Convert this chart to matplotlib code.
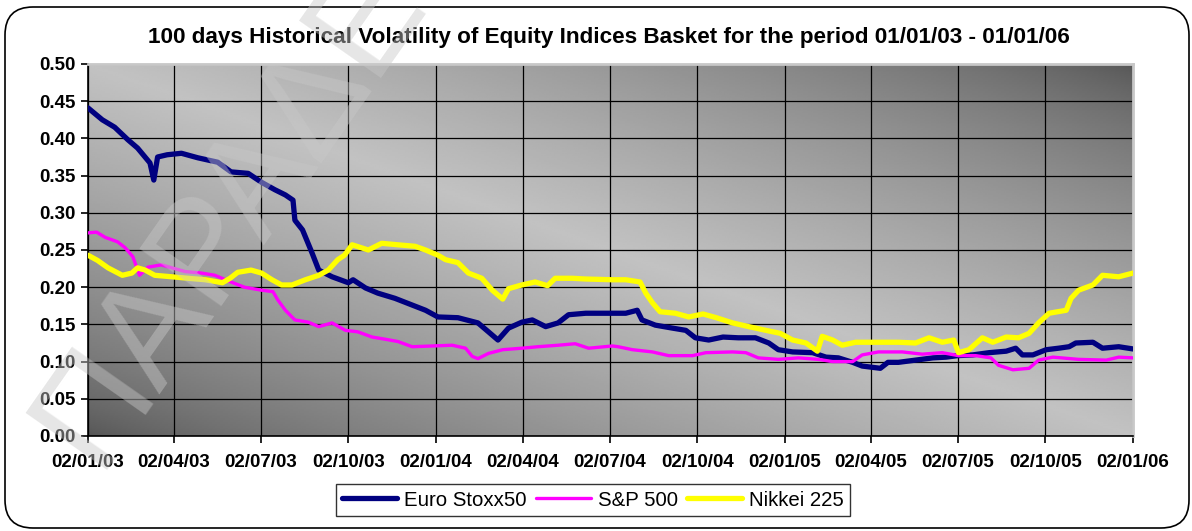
import numpy as np
import pandas as pd
import matplotlib
matplotlib.use("Agg")
import matplotlib.pyplot as plt
import matplotlib.dates as mdates
from matplotlib.patches import FancyBboxPatch

plt.rcParams['font.family'] = ['Liberation Sans', 'DejaVu Sans']

# ---------------------------------------------------------------- data
euro_dates = ['2003-01-02', '2003-01-17', '2003-01-30', '2003-02-13', '2003-02-23', '2003-03-08',
              '2003-03-12', '2003-03-16', '2003-03-26', '2003-04-10', '2003-04-27', '2003-05-18',
              '2003-06-01', '2003-06-19', '2003-07-03', '2003-07-17', '2003-07-28', '2003-08-05',
              '2003-08-07', '2003-08-15', '2003-08-25', '2003-09-01', '2003-09-15', '2003-10-02',
              '2003-10-07', '2003-10-20', '2003-11-02', '2003-11-20', '2003-12-08', '2003-12-22',
              '2004-01-04', '2004-01-25', '2004-02-15', '2004-02-26', '2004-03-07', '2004-03-18',
              '2004-04-01', '2004-04-12', '2004-04-26', '2004-05-09', '2004-05-20', '2004-06-07',
              '2004-07-05', '2004-07-19', '2004-07-31', '2004-08-05', '2004-08-19', '2004-09-06',
              '2004-09-20', '2004-09-30', '2004-10-14', '2004-10-29', '2004-11-14', '2004-12-02',
              '2004-12-16', '2004-12-26', '2005-01-10', '2005-01-31', '2005-02-14', '2005-02-27',
              '2005-03-14', '2005-03-24', '2005-04-12', '2005-04-20', '2005-05-01', '2005-05-19',
              '2005-06-06', '2005-06-20', '2005-07-02', '2005-07-18', '2005-08-04', '2005-08-22',
              '2005-09-01', '2005-09-08', '2005-09-19', '2005-10-03', '2005-10-16', '2005-10-27',
              '2005-11-03', '2005-11-21', '2005-12-01', '2005-12-18', '2006-01-02']
euro_vals = [0.441, 0.425, 0.415, 0.398, 0.387, 0.367, 0.344, 0.375, 0.378, 0.380, 0.374, 0.368,
             0.355, 0.353, 0.341, 0.331, 0.324, 0.317, 0.290, 0.277, 0.246, 0.223, 0.214, 0.206,
             0.210, 0.199, 0.192, 0.185, 0.176, 0.169, 0.160, 0.159, 0.152, 0.140, 0.129, 0.145,
             0.153, 0.156, 0.147, 0.152, 0.163, 0.165, 0.165, 0.165, 0.169, 0.156, 0.149, 0.145,
             0.142, 0.132, 0.129, 0.133, 0.132, 0.132, 0.125, 0.116, 0.113, 0.112, 0.106, 0.105,
             0.099, 0.094, 0.091, 0.099, 0.099, 0.102, 0.105, 0.106, 0.108, 0.109, 0.112, 0.114,
             0.118, 0.109, 0.109, 0.116, 0.118, 0.120, 0.125, 0.126, 0.118, 0.120, 0.117]

sp_dates = ['2003-01-02', '2003-01-11', '2003-01-20', '2003-02-02', '2003-02-10', '2003-02-18',
            '2003-02-22', '2003-02-25', '2003-03-06', '2003-03-20', '2003-03-31', '2003-04-14',
            '2003-05-01', '2003-05-15', '2003-06-01', '2003-06-15', '2003-07-03', '2003-07-15',
            '2003-07-20', '2003-07-28', '2003-08-07', '2003-08-21', '2003-09-01', '2003-09-15',
            '2003-09-29', '2003-10-12', '2003-10-27', '2003-11-10', '2003-11-23', '2003-12-08',
            '2003-12-29', '2004-01-19', '2004-02-02', '2004-02-09', '2004-02-15', '2004-02-26',
            '2004-03-12', '2004-04-01', '2004-04-18', '2004-05-09', '2004-05-27', '2004-06-10',
            '2004-07-05', '2004-07-11', '2004-07-26', '2004-08-16', '2004-09-02', '2004-09-27',
            '2004-10-11', '2004-11-08', '2004-11-22', '2004-12-05', '2004-12-26', '2005-01-16',
            '2005-02-06', '2005-02-21', '2005-03-14', '2005-03-24', '2005-04-10', '2005-05-05',
            '2005-05-26', '2005-06-16', '2005-07-03', '2005-07-21', '2005-08-06', '2005-08-14',
            '2005-08-29', '2005-09-15', '2005-09-25', '2005-10-10', '2005-11-06', '2005-12-05',
            '2005-12-18', '2006-01-02']
sp_vals = [0.273, 0.274, 0.267, 0.261, 0.253, 0.241, 0.227, 0.216, 0.227, 0.230, 0.226, 0.221,
           0.219, 0.216, 0.207, 0.200, 0.196, 0.194, 0.183, 0.169, 0.156, 0.153, 0.147, 0.152,
           0.142, 0.140, 0.133, 0.130, 0.127, 0.120, 0.121, 0.122, 0.118, 0.107, 0.104, 0.111,
           0.116, 0.118, 0.120, 0.122, 0.124, 0.118, 0.121, 0.120, 0.116, 0.113, 0.108, 0.108,
           0.112, 0.113, 0.112, 0.105, 0.103, 0.105, 0.103, 0.100, 0.100, 0.109, 0.113, 0.113,
           0.110, 0.112, 0.108, 0.108, 0.105, 0.095, 0.089, 0.091, 0.102, 0.106, 0.103, 0.102,
           0.106, 0.105]

nikkei_dates = ['2003-01-02', '2003-01-12', '2003-01-23', '2003-02-07', '2003-02-17', '2003-02-23',
                '2003-03-03', '2003-03-13', '2003-03-31', '2003-04-17', '2003-05-05', '2003-05-23',
                '2003-05-31', '2003-06-08', '2003-06-22', '2003-07-03', '2003-07-14', '2003-07-24',
                '2003-08-04', '2003-08-18', '2003-09-01', '2003-09-11', '2003-09-21', '2003-09-28',
                '2003-10-06', '2003-10-23', '2003-11-06', '2003-11-23', '2003-12-11', '2003-12-22',
                '2004-01-04', '2004-01-12', '2004-01-25', '2004-02-05', '2004-02-19', '2004-03-01',
                '2004-03-12', '2004-03-18', '2004-04-01', '2004-04-15', '2004-04-28', '2004-05-06',
                '2004-05-24', '2004-06-07', '2004-07-05', '2004-07-19', '2004-08-03', '2004-08-09',
                '2004-08-16', '2004-08-24', '2004-09-09', '2004-09-23', '2004-10-08', '2004-10-22',
                '2004-11-08', '2004-11-25', '2004-12-13', '2004-12-28', '2005-01-10', '2005-01-24',
                '2005-02-05', '2005-02-10', '2005-02-21', '2005-03-03', '2005-03-17', '2005-04-03',
                '2005-05-01', '2005-05-19', '2005-06-02', '2005-06-16', '2005-06-28', '2005-07-03',
                '2005-07-14', '2005-07-28', '2005-08-08', '2005-08-22', '2005-09-04', '2005-09-15',
                '2005-09-25', '2005-10-06', '2005-10-24', '2005-10-29', '2005-11-06', '2005-11-21',
                '2005-12-01', '2005-12-18', '2006-01-02']
nikkei_vals = [0.243, 0.236, 0.226, 0.216, 0.219, 0.226, 0.223, 0.216, 0.214, 0.212, 0.210, 0.206,
               0.212, 0.220, 0.223, 0.219, 0.210, 0.203, 0.203, 0.210, 0.216, 0.223, 0.237, 0.243,
               0.257, 0.250, 0.259, 0.257, 0.255, 0.250, 0.243, 0.237, 0.233, 0.219, 0.212, 0.196,
               0.184, 0.198, 0.203, 0.207, 0.202, 0.212, 0.212, 0.211, 0.210, 0.210, 0.207, 0.192,
               0.179, 0.167, 0.165, 0.160, 0.164, 0.159, 0.152, 0.147, 0.142, 0.138, 0.129, 0.125,
               0.114, 0.134, 0.129, 0.122, 0.126, 0.126, 0.126, 0.125, 0.132, 0.126, 0.129, 0.112,
               0.116, 0.132, 0.126, 0.133, 0.132, 0.138, 0.152, 0.165, 0.169, 0.185, 0.196, 0.203,
               0.216, 0.214, 0.219]

tick_dates = ['2003-01-02', '2003-04-02', '2003-07-02', '2003-10-02', '2004-01-02', '2004-04-02',
              '2004-07-02', '2004-10-02', '2005-01-02', '2005-04-02', '2005-07-02', '2005-10-02',
              '2006-01-02']
y_ticks = [0.00, 0.05, 0.10, 0.15, 0.20, 0.25, 0.30, 0.35, 0.40, 0.45, 0.50]

series_names = ['Euro Stoxx50', 'S&P 500', 'Nikkei 225']
series_colors = ['#000080', '#FF00FF', '#FFFF00']
series_widths = [3.8, 2.4, 3.8]

title = '100 days Historical Volatility of Equity Indices Basket for the period 01/01/03 - 01/01/06'

# ---------------------------------------------------------------- figure
fig = plt.figure(figsize=(11.92, 5.31), dpi=100)

# rounded outer frame
frame = FancyBboxPatch((0.05, 0.03), 11.84, 5.21, boxstyle='round,pad=0,rounding_size=0.28',
                       transform=fig.dpi_scale_trans, facecolor='none', edgecolor='black',
                       linewidth=1.2, zorder=-1)
fig.patches.append(frame)

ax = fig.add_axes([88 / 1192, 95 / 531, 1045 / 1192, 372 / 531])

# diagonal grey gradient background (dark bottom-left & top-right, light in between)
gx, gy = np.meshgrid(np.linspace(0, 1, 400), np.linspace(0, 1, 200))
u = (gx + gy) / 2
shade = (1 - np.abs(2 * u - 1)) ** 0.7
dark, light = 0x55 / 255, 0xC2 / 255
grad = dark + (light - dark) * shade
ax.imshow(grad, extent=[0, 1, 0, 1], transform=ax.transAxes, origin='lower',
          cmap='gray', vmin=0, vmax=1, aspect='auto', zorder=0, interpolation='bilinear')

all_dates = [euro_dates, sp_dates, nikkei_dates]
all_vals = [euro_vals, sp_vals, nikkei_vals]
for d, v, name, c, lw in zip(all_dates, all_vals, series_names, series_colors, series_widths):
    ax.plot(pd.to_datetime(d), v, color=c, lw=lw, label=name, zorder=3,
            solid_joinstyle='round', solid_capstyle='round')

ticks = pd.to_datetime(tick_dates)
ax.set_xlim(ticks[0], ticks[-1])
ax.set_ylim(0, 0.5)
ax.set_xticks(ticks)
ax.xaxis.set_major_formatter(mdates.DateFormatter('%d/%m/%y'))
ax.set_yticks(y_ticks)
ax.set_yticklabels([f'{t:.2f}' for t in y_ticks])

ax.grid(True, color='black', lw=0.9)
for gl in ax.get_xgridlines() + ax.get_ygridlines():
    gl.set_zorder(1)

for s in ['left', 'bottom']:
    ax.spines[s].set_color('black')
    ax.spines[s].set_linewidth(1.2)
for s in ['top', 'right']:
    ax.spines[s].set_color('#C8C8C8')
    ax.spines[s].set_linewidth(2)

ax.tick_params(axis='both', direction='out', length=5, width=1.2, color='black',
               labelsize=13.5)
ax.tick_params(axis='x', pad=8)
ax.tick_params(axis='y', pad=4)
for lab in ax.get_xticklabels() + ax.get_yticklabels():
    lab.set_fontweight('bold')

fig.text(609 / 1192, 1 - 38 / 531, title, ha='center', va='center',
         fontsize=16.2, fontweight='bold')

leg = fig.legend(loc='center', bbox_to_anchor=(593 / 1192, 1 - 500 / 531), ncol=3,
                 fontsize=14.7, frameon=True, fancybox=False, edgecolor='black',
                 handlelength=2.7, handletextpad=0.35, columnspacing=0.45,
                 borderpad=0.3, borderaxespad=0)
leg.get_frame().set_linewidth(1.0)

# faint watermark laid over the whole chart
fig.text(95 / 1192, 1 - 470 / 531, 'ΠΑΡΑΔΕΙΓΜΑ', rotation=55, rotation_mode='anchor',
         ha='left', va='baseline', fontsize=104, color='#C8C8C8', alpha=0.45, zorder=20)

fig.savefig('out.png', dpi=100)
